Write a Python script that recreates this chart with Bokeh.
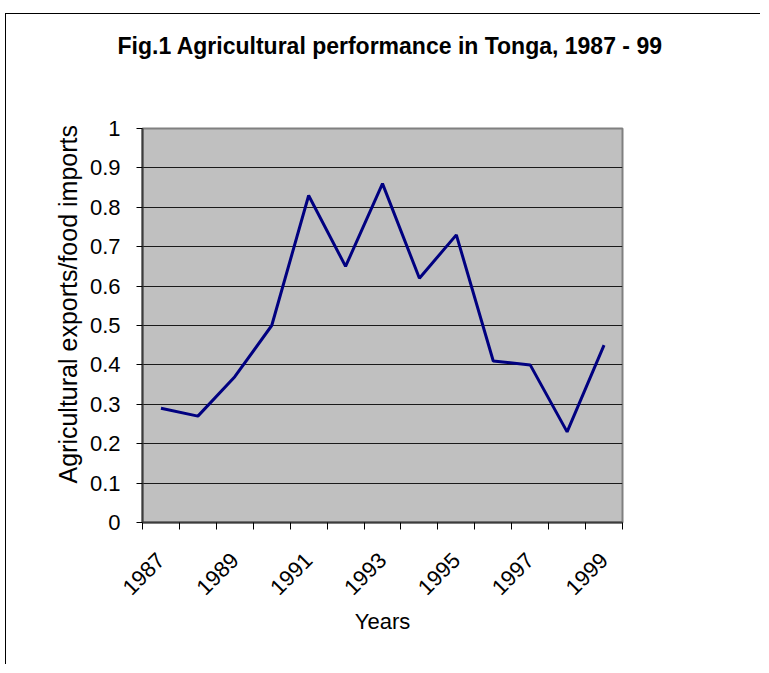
import math
from bokeh.plotting import figure
from bokeh.models import Range1d, FixedTicker, ColumnDataSource, Title
from bokeh.embed import file_html
from bokeh.resources import INLINE

# ---- data ----
years = [1987, 1988, 1989, 1990, 1991, 1992, 1993, 1994, 1995, 1996, 1997, 1998, 1999]
ratio = [0.29, 0.27, 0.37, 0.50, 0.83, 0.65, 0.86, 0.62, 0.73, 0.41, 0.40, 0.23, 0.45]
year_labels = ["1987", "1989", "1991", "1993", "1995", "1997", "1999"]
y_ticks = [0, 0.1, 0.2, 0.3, 0.4, 0.5, 0.6, 0.7, 0.8, 0.9, 1.0]
y_tick_labels = ["0", "0.1", "0.2", "0.3", "0.4", "0.5", "0.6", "0.7", "0.8", "0.9", "1"]

title_text = "Fig.1 Agricultural performance in Tonga, 1987 - 99"
x_title = "Years"
y_title = "Agricultural exports/food imports"

FONT = "Liberation Sans"

n = len(years)
pos = [i + 0.5 for i in range(n)]  # category centres
src = ColumnDataSource(dict(x=pos, y=ratio))

p = figure(width=755, height=651, output_backend="svg", toolbar_location=None,
           x_range=Range1d(0, n), y_range=Range1d(0, 1),
           min_border_left=136, min_border_right=139,
           min_border_top=113, min_border_bottom=143)

p.styles = {"border-top": "1px solid #000000", "border-left": "1px solid #000000",
            "margin-top": "13px", "margin-left": "5px"}

p.background_fill_color = "#C0C0C0"
p.border_fill_color = "white"
p.outline_line_color = "#808080"
p.outline_line_width = 2

# built-in title unused; spacer + real title stacked above the frame
p.title.text = ""
p.title.standoff = 0
p.add_layout(Title(text=" ", text_font_size="1px", standoff=51), "above")
p.add_layout(Title(text=title_text, text_font=FONT, text_font_size="23px",
                   text_font_style="bold", text_color="#000000",
                   align="left", offset=-25, standoff=32), "above")

p.line("x", "y", source=src, line_color="#000080", line_width=3)

# x axis
xa = p.xaxis[0]
label_pos = [pos[years.index(int(s))] for s in year_labels]
xa.ticker = FixedTicker(ticks=label_pos, minor_ticks=list(range(n + 1)))
xa.major_label_overrides = {lp: s for lp, s in zip(label_pos, year_labels)}
xa.major_label_orientation = math.pi / 4
xa.major_tick_out = 0
xa.major_tick_in = 0
xa.minor_tick_out = 7
xa.minor_tick_in = 0
xa.minor_tick_line_color = "#000000"
xa.axis_line_color = "#3c3c3c"
xa.axis_line_width = 2
xa.major_label_text_font = FONT
xa.major_label_text_font_size = "22px"
xa.major_label_text_color = "#000000"
xa.major_label_standoff = 27
xa.axis_label = x_title
xa.axis_label_text_font = FONT
xa.axis_label_text_font_size = "22px"
xa.axis_label_text_font_style = "normal"
xa.axis_label_text_color = "#000000"
xa.axis_label_standoff = 4

# y axis
ya = p.yaxis[0]
ya.ticker = FixedTicker(ticks=y_ticks)
ya.major_label_overrides = {t: s for t, s in zip(y_ticks, y_tick_labels)}
ya.major_tick_out = 6
ya.major_tick_in = 0
ya.major_tick_line_color = "#000000"
ya.minor_tick_line_color = None
ya.axis_line_color = "#3c3c3c"
ya.axis_line_width = 2
ya.major_label_text_font = FONT
ya.major_label_text_font_size = "22px"
ya.major_label_text_color = "#000000"
ya.major_label_standoff = 16

# y axis title as a side title, so it can sit off-centre like the original
p.add_layout(Title(text=y_title, text_font=FONT, text_font_size="25px",
                   text_font_style="normal", text_color="#000000",
                   align="left", offset=39, standoff=10), "left")

p.xgrid.visible = False
p.ygrid.ticker = FixedTicker(ticks=y_ticks[1:-1])
p.ygrid.grid_line_color = "#1a1a1a"
p.ygrid.grid_line_width = 1

open("out.html", "w").write(file_html(p, INLINE))
